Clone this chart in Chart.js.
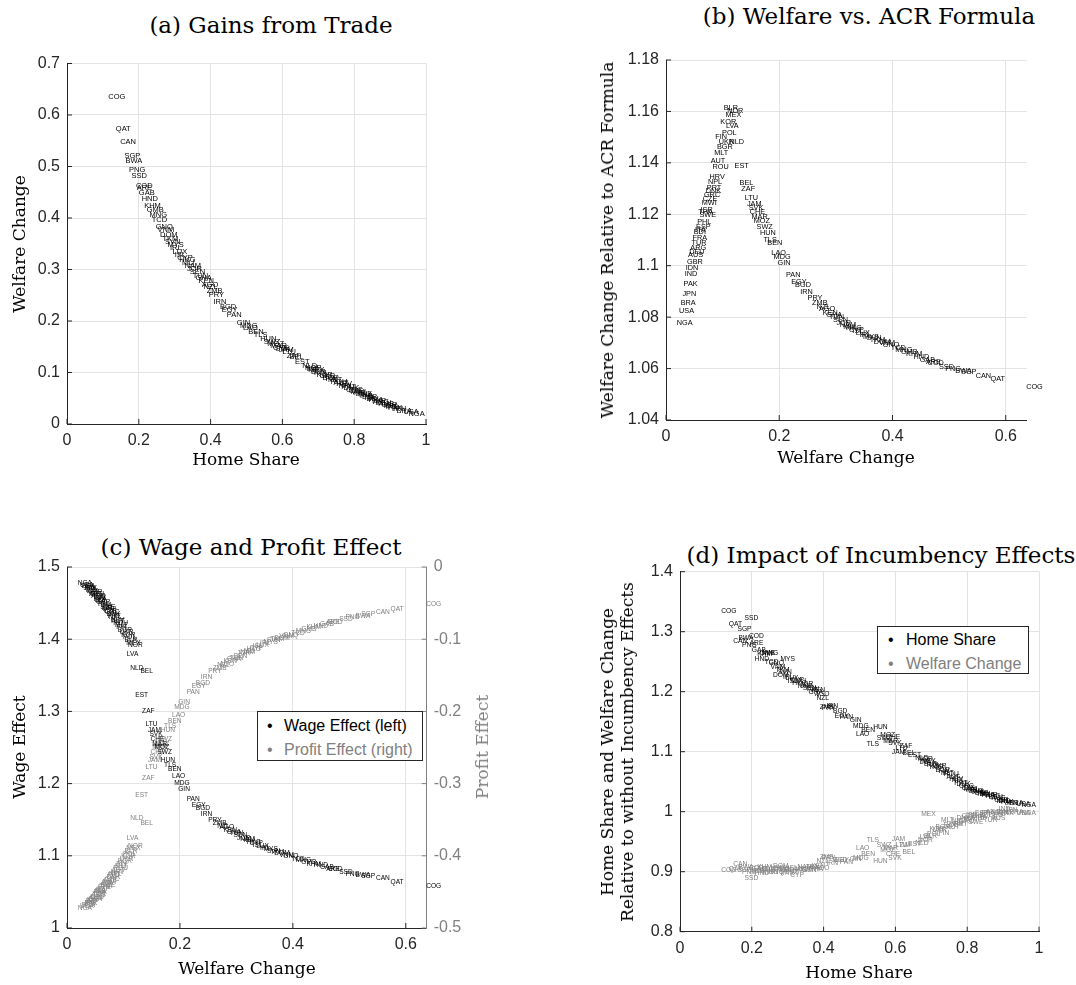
<!DOCTYPE html>
<html>
<head>
<meta charset="utf-8">
<script src="https://cdn.jsdelivr.net/npm/chart.js@4.4.1/dist/chart.umd.min.js"></script>
<style>
  body { margin: 0; background: #fff; width: 1076px; height: 985px; position: relative; overflow: hidden; }
  canvas { position: absolute; }
  .ttl { position: absolute; font-family: "DejaVu Serif", serif; font-size: 23px; color: #000; white-space: nowrap; transform: translate(-50%, -50%); }
  .lab { position: absolute; font-family: "DejaVu Serif", serif; font-size: 17px; color: #000; white-space: nowrap; transform: translate(-50%, -50%); }
  .rot { transform: translate(-50%, -50%) rotate(-90deg); text-align: center; line-height: 20px; }
  .legend { position: absolute; border: 1px solid #262626; background: #fff; box-sizing: border-box;
            font-family: "Liberation Sans", Arial, sans-serif; font-size: 16px; }
  .legend div { position: absolute; white-space: nowrap; transform: translateY(-50%); }
</style>
</head>
<body>
<div class="ttl" style="left:271px;top:25px">(a) Gains from Trade</div>
<div class="ttl" style="left:869px;top:16px">(b) Welfare vs. ACR Formula</div>
<div class="ttl" style="left:251px;top:547px">(c) Wage and Profit Effect</div>
<div class="ttl" style="left:881px;top:555px">(d) Impact of Incumbency Effects</div>

<canvas id="chartA" width="540" height="420" style="left:0;top:40px"></canvas>
<canvas id="chartB" width="536" height="420" style="left:540px;top:40px"></canvas>
<canvas id="chartC" width="540" height="465" style="left:0;top:520px"></canvas>
<canvas id="chartD" width="536" height="465" style="left:540px;top:520px"></canvas>

<div class="lab" style="left:246px;top:459px">Home Share</div>
<div class="lab rot" style="left:19px;top:244px">Welfare Change</div>
<div class="lab" style="left:846px;top:457px">Welfare Change</div>
<div class="lab rot" style="left:607px;top:240px">Welfare Change Relative to ACR Formula</div>
<div class="lab" style="left:247px;top:968px">Welfare Change</div>
<div class="lab rot" style="left:19px;top:747px">Wage Effect</div>
<div class="lab rot" style="left:482px;top:747px;color:#808080">Profit Effect</div>
<div class="lab" style="left:859px;top:972px">Home Share</div>
<div class="lab rot" style="left:617px;top:752px">Home Share and Welfare Change<br>Relative to without Incumbency Effects</div>

<div class="legend" style="left:257px;top:711px;width:166px;height:50px">
  <div style="left:9px;top:14px">&#8226;</div><div style="left:26px;top:14px">Wage Effect (left)</div>
  <div style="left:9px;top:38px;color:#808080">&#8226;</div><div style="left:26px;top:38px;color:#808080">Profit Effect (right)</div>
</div>
<div class="legend" style="left:877px;top:626px;width:152px;height:48px">
  <div style="left:10px;top:13px">&#8226;</div><div style="left:28px;top:13px">Home Share</div>
  <div style="left:10px;top:37px;color:#808080">&#8226;</div><div style="left:28px;top:37px;color:#808080">Welfare Change</div>
</div>

<script>
// countries, ordered by home share
const countries = [
  "COG","QAT","CAN","SGP","BWA","PNG","SSD","COD","ARE","GAB",
  "HND","KHM","GMB","MNG","TCD","GNQ","VNM","DOM","TKM","SVN",
  "MYS","IRL","LUX","ISL","CYP","HKG","MLI","NAM","JOR","SEN",
  "TUN","GHA","KEN","AGO","NZL","ZMB","PRY","IRN","BGD","EGY",
  "PAN","GIN","MDG","LAO","BEN","TLS","HUN","SWZ","MOZ","MAR",
  "CHE","SVK","JAM","LTU","ZAF","BEL","EST","NLD","NOR","LVA",
  "MEX","BLR","POL","KOR","UKR","BGR","FIN","MLT","ROU","AUT",
  "HRV","NPL","PRT","DNK","GRC","CZE","MWI","ISR","SWE","THA",
  "PHL","ESP","ITA","BDI","FRA","TUR","ARG","DEU","AUS","GBR",
  "IDN","IND","PAK","JPN","BRA","USA","NGA"
];
const homeShare = [
  .115,.136,.148,.160,.163,.173,.180,.192,.194,.200,
  .208,.215,.222,.230,.236,.247,.252,.259,.266,.273,
  .280,.287,.294,.300,.307,.313,.320,.327,.334,.342,
  .350,.358,.366,.375,.380,.389,.395,.408,.426,.431,
  .445,.473,.482,.490,.505,.520,.538,.548,.558,.566,
  .574,.580,.590,.600,.612,.620,.635,.655,.663,.668,
  .672,.680,.688,.695,.703,.712,.720,.727,.735,.742,
  .750,.757,.764,.770,.777,.784,.790,.797,.803,.810,
  .816,.822,.828,.834,.840,.846,.852,.860,.868,.875,
  .882,.888,.894,.905,.918,.937,.951
];
const welfareChange = [
  .636,.573,.547,.521,.511,.493,.482,.462,.459,.448,
  .437,.424,.415,.405,.397,.383,.376,.367,.360,.354,
  .348,.342,.335,.329,.323,.318,.313,.307,.301,.295,
  .288,.283,.277,.270,.266,.258,.250,.237,.228,.221,
  .212,.197,.190,.186,.179,.172,.166,.160,.155,.151,
  .148,.146,.143,.139,.133,.130,.121,.112,.108,.106,
  .105,.102,.099,.096,.093,.090,.087,.085,.082,.079,
  .077,.074,.072,.070,.067,.065,.063,.061,.059,.057,
  .055,.053,.051,.049,.047,.045,.043,.041,.039,.037,
  .035,.033,.031,.029,.026,.023,.019
];
// (b) welfare change relative to ACR formula
const acrRatio = [
  1.053,1.0558,1.0571,1.0585,1.0592,1.0600,1.0607,1.0622,1.0627,1.0635,
  1.0646,1.0656,1.0664,1.0672,1.0680,1.0692,1.0698,1.0704,1.0712,1.0718,
  1.0724,1.0731,1.0738,1.0745,1.0751,1.0757,1.0763,1.0770,1.0779,1.0788,
  1.0800,1.0808,1.0818,1.0830,1.0840,1.0856,1.0873,1.0899,1.0925,1.0938,
  1.0965,1.1009,1.1035,1.1050,1.1090,1.1100,1.1126,1.1150,1.1174,1.1190,
  1.1210,1.1225,1.1240,1.1265,1.1300,1.1323,1.1388,1.1480,1.1600,1.1545,
  1.1585,1.1612,1.1515,1.1560,1.1482,1.1463,1.1500,1.1440,1.1383,1.1408,
  1.1344,1.1324,1.1304,1.1290,1.1275,1.1258,1.1243,1.1217,1.1197,1.1210,
  1.1171,1.1152,1.1140,1.1132,1.1107,1.1087,1.1068,1.1052,1.1040,1.1013,
  1.0990,1.0968,1.0930,1.0890,1.0856,1.0824,1.0777
];
// (c) wage effect (left axis) and profit effect (right axis)
const wageEffect = [
  1.058,1.064,1.069,1.072,1.073,1.075,1.077,1.081,1.082,1.084,
  1.087,1.089,1.091,1.094,1.096,1.099,1.101,1.103,1.105,1.107,
  1.109,1.111,1.113,1.115,1.117,1.119,1.121,1.123,1.125,1.128,
  1.131,1.133,1.136,1.139,1.141,1.145,1.150,1.158,1.166,1.170,
  1.178,1.192,1.201,1.210,1.220,1.226,1.233,1.243,1.250,1.255,
  1.262,1.268,1.274,1.283,1.300,1.356,1.322,1.360,1.392,1.379,
  1.395,1.399,1.403,1.406,1.410,1.413,1.416,1.419,1.422,1.425,
  1.427,1.430,1.432,1.434,1.437,1.439,1.441,1.443,1.445,1.447,
  1.449,1.451,1.452,1.454,1.456,1.458,1.460,1.462,1.463,1.465,
  1.466,1.468,1.470,1.471,1.473,1.475,1.478
];
const profitEffect = [
  -0.052,-0.059,-0.063,-0.066,-0.068,-0.070,-0.072,-0.076,-0.077,-0.079,
  -0.082,-0.084,-0.086,-0.089,-0.091,-0.094,-0.096,-0.098,-0.100,-0.102,
  -0.104,-0.106,-0.108,-0.110,-0.112,-0.114,-0.116,-0.118,-0.120,-0.123,
  -0.126,-0.128,-0.131,-0.134,-0.136,-0.140,-0.144,-0.152,-0.161,-0.165,
  -0.173,-0.187,-0.194,-0.205,-0.214,-0.221,-0.226,-0.238,-0.245,-0.250,
  -0.257,-0.263,-0.268,-0.277,-0.293,-0.355,-0.316,-0.348,-0.386,-0.375,
  -0.390,-0.394,-0.398,-0.401,-0.405,-0.408,-0.411,-0.414,-0.417,-0.420,
  -0.422,-0.425,-0.427,-0.429,-0.432,-0.434,-0.436,-0.438,-0.440,-0.442,
  -0.444,-0.446,-0.447,-0.449,-0.451,-0.453,-0.455,-0.457,-0.458,-0.460,
  -0.461,-0.463,-0.465,-0.466,-0.468,-0.470,-0.473
];
// (d) ratios relative to the model without incumbency effects
const homeShareRatio = [
  1.335,1.313,1.285,1.304,1.289,1.278,1.322,1.293,1.281,1.270,
  1.255,1.262,1.264,1.265,1.250,1.248,1.241,1.227,1.236,1.232,
  1.254,1.225,1.222,1.217,1.220,1.214,1.218,1.210,1.213,1.206,
  1.204,1.200,1.203,1.196,1.189,1.174,1.173,1.176,1.167,1.160,
  1.158,1.152,1.143,1.130,1.136,1.112,1.141,1.122,1.127,1.118,
  1.125,1.115,1.099,1.106,1.110,1.097,1.095,1.090,1.088,1.082,
  1.085,1.080,1.078,1.074,1.076,1.070,1.067,1.064,1.062,1.058,
  1.055,1.052,1.048,1.046,1.043,1.040,1.038,1.036,1.035,1.033,
  1.032,1.031,1.030,1.029,1.028,1.027,1.026,1.024,1.022,1.020,
  1.018,1.017,1.016,1.015,1.014,1.013,1.011
];
const welfareRatio = [
  .903,.905,.913,.902,.908,.900,.889,.906,.901,.904,
  .898,.907,.903,.900,.905,.899,.906,.910,.902,.905,
  .897,.903,.900,.906,.894,.902,.905,.908,.904,.902,
  .907,.905,.909,.906,.917,.925,.922,.914,.920,.919,
  .916,.921,.922,.940,.930,.953,.917,.944,.936,.939,
  .930,.922,.955,.945,.944,.933,.946,.948,.952,.958,
  .996,.960,.963,.971,.969,.975,.965,.986,.978,.974,
  .980,.984,.979,.990,.985,.992,.988,.995,.983,.993,
  .989,.997,.991,.994,.998,.986,.999,.995,.990,.997,
  1.000,1.004,.998,1.002,.999,.998,.997
];

const BLACK = "#000000";
const GRAY = "#808080";
const AXIS = "#262626";

function points(xs, ys) {
  return countries.map((c, i) => ({ x: xs[i], y: ys[i] }));
}

// write each country code at its point (left edge, vertically centred)
const codeLabels = {
  id: "codeLabels",
  afterDatasetsDraw(chart) {
    const ctx = chart.ctx;
    chart.data.datasets.forEach((ds, di) => {
      const meta = chart.getDatasetMeta(di);
      ctx.save();
      ctx.font = ds.labelFont;
      ctx.fillStyle = ds.labelColor;
      ctx.textAlign = "left";
      ctx.textBaseline = "middle";
      meta.data.forEach((pt, i) => ctx.fillText(countries[i], pt.x, pt.y));
      ctx.restore();
    });
  }
};

// matlab style ticks pointing into the plot
const inwardTicks = {
  id: "inwardTicks",
  afterDraw(chart) {
    const ctx = chart.ctx;
    ctx.save();
    ctx.lineWidth = 1;
    Object.values(chart.scales).forEach(s => {
      ctx.strokeStyle = s.options.border.color;
      s.ticks.forEach(t => {
        const p = s.getPixelForValue(t.value);
        ctx.beginPath();
        if (s.position === "bottom") { ctx.moveTo(p, s.top); ctx.lineTo(p, s.top - 5); }
        else if (s.position === "left") { ctx.moveTo(s.right, p); ctx.lineTo(s.right + 5, p); }
        else { ctx.moveTo(s.left, p); ctx.lineTo(s.left - 5, p); }
        ctx.stroke();
      });
    });
    ctx.restore();
  }
};

function axis(min, max, step, size, extra) {
  const horizontal = extra && extra.position === "bottom";
  return Object.assign({
    type: "linear",
    min: min,
    max: max,
    ticks: {
      stepSize: step,
      includeBounds: false,
      color: AXIS,
      padding: 7,
      font: { family: "Liberation Sans", size: 16 },
      callback: v => String(Math.round(v * 1000) / 1000)
    },
    grid: { color: "#e3e3e3", drawTicks: false },
    border: { color: AXIS },
    afterFit(s) { if (horizontal) s.height = size; else s.width = size; }
  }, extra);
}

function makeChart(id, datasets, scales, padding) {
  return new Chart(document.getElementById(id), {
    type: "scatter",
    data: { datasets: datasets },
    options: {
      responsive: false,
      animation: false,
      devicePixelRatio: 1,
      events: [],
      layout: { padding: padding },
      elements: { point: { radius: 0, hoverRadius: 0 } },
      plugins: { legend: { display: false }, tooltip: { enabled: false } },
      scales: scales
    },
    plugins: [codeLabels, inwardTicks]
  });
}

// (a) Gains from Trade
makeChart("chartA",
  [{ data: points(homeShare, welfareChange), labelColor: BLACK, labelFont: "7.5px 'Liberation Sans'" }],
  {
    x: axis(0, 1, 0.2, 30, { position: "bottom" }),
    y: axis(0, 0.7, 0.1, 67, { position: "left" })
  },
  { left: 0, top: 23.5, right: 114, bottom: 6 });

// (b) Welfare vs. ACR Formula
makeChart("chartB",
  [{ data: points(welfareChange, acrRatio), labelColor: BLACK, labelFont: "7.3px 'Liberation Sans'" }],
  {
    x: axis(0, 0.637, 0.2, 30, { position: "bottom" }),
    y: axis(1.04, 1.18, 0.02, 126, { position: "left" })
  },
  { left: 0, top: 20, right: 49.3, bottom: 10 });

// (c) Wage and Profit Effect
const y2 = axis(-0.5, 0, 0.1, 60, { position: "right" });
y2.ticks.color = GRAY;
y2.border = { color: GRAY };
y2.grid = { drawOnChartArea: false, drawTicks: false };
makeChart("chartC",
  [
    { data: points(welfareChange, profitEffect), yAxisID: "y2", labelColor: GRAY, labelFont: "6.6px 'Liberation Sans'" },
    { data: points(welfareChange, wageEffect), yAxisID: "y", labelColor: BLACK, labelFont: "6.6px 'Liberation Sans'" }
  ],
  {
    x: axis(0, 0.637, 0.2, 30, { position: "bottom" }),
    y: axis(1, 1.5, 0.1, 67, { position: "left" }),
    y2: y2
  },
  { left: 0, top: 47, right: 53.3, bottom: 27 });

// (d) Impact of Incumbency Effects
makeChart("chartD",
  [
    { data: points(homeShare, welfareRatio), labelColor: GRAY, labelFont: "6.7px 'Liberation Sans'" },
    { data: points(homeShare, homeShareRatio), labelColor: BLACK, labelFont: "6.7px 'Liberation Sans'" }
  ],
  {
    x: axis(0, 1, 0.2, 30, { position: "bottom" }),
    y: axis(0.8, 1.4, 0.1, 140, { position: "left" })
  },
  { left: 0, top: 51.7, right: 37, bottom: 23.3 });
</script>
</body>
</html>
